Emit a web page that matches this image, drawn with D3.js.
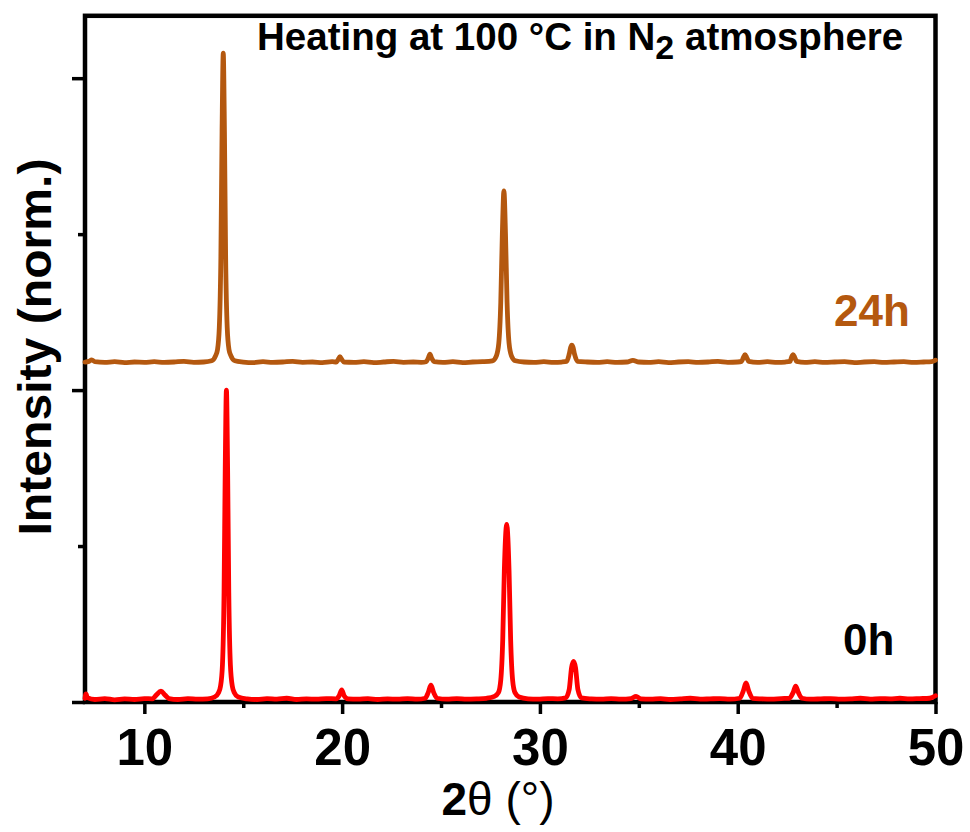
<!DOCTYPE html>
<html>
<head>
<meta charset="utf-8">
<script src="https://cdn.jsdelivr.net/npm/d3@7/dist/d3.min.js"></script>
<style>
  html, body { margin: 0; padding: 0; background: #fff; }
  svg { display: block; }
  text { font-family: "Liberation Sans", Arial, Helvetica, sans-serif; }
</style>
</head>
<body>
<svg id="chart" width="970" height="832"></svg>
<script>
// ---------------- DATA ----------------
const seriesNames = ["0h", "24h"];
const seriesColors = ["#FF0000", "#B4580F"];
const stackOffset24h = 1.08;   // vertical offset of the 24h pattern (norm. units)

const xMajorTicks = [10, 20, 30, 40, 50];
const xMinorTicks = [15, 25, 35, 45];
const yMajorTicks = [0, 1, 2];
const yMinorTicks = [0.5, 1.5];

const titleMain = "Heating at 100 °C in N";
const titleSub = "2";
const titleEnd = " atmosphere";
const yLabel = "Intensity (norm.)";

// 0h pattern: [2θ (°), intensity (norm.)]
const pattern0h = [
  [7.0, 0.012], [7.05, 0.026], [7.12, 0.014], [7.5, 0.008], [8.0, 0.011], [8.5, 0.007],
  [9.0, 0.010], [9.5, 0.008], [10.0, 0.011], [10.4, 0.010], [10.6, 0.022], [10.84, 0.035],
  [11.05, 0.022], [11.25, 0.011], [11.7, 0.008], [12.2, 0.011], [12.7, 0.009], [13.2, 0.010],
  [13.55, 0.016], [13.75, 0.03], [13.85, 0.05], [13.95, 0.12], [14.03, 0.35], [14.09, 0.75],
  [14.15, 1.0], [14.21, 0.75], [14.27, 0.35], [14.35, 0.12], [14.45, 0.05], [14.55, 0.03],
  [14.75, 0.016], [15.2, 0.010], [15.7, 0.008], [16.2, 0.011], [16.7, 0.009], [17.2, 0.012],
  [17.7, 0.008], [18.2, 0.010], [18.7, 0.009], [19.2, 0.011], [19.7, 0.010], [19.85, 0.02],
  [19.98, 0.039], [20.1, 0.02], [20.3, 0.010], [20.8, 0.009], [21.3, 0.011], [21.8, 0.008],
  [22.3, 0.010], [22.8, 0.009], [23.3, 0.011], [23.8, 0.009], [24.2, 0.012], [24.35, 0.03],
  [24.49, 0.054], [24.63, 0.03], [24.8, 0.012], [25.3, 0.009], [25.8, 0.011], [26.3, 0.009],
  [26.8, 0.010], [27.3, 0.012], [27.7, 0.018], [27.9, 0.03], [28.02, 0.07], [28.12, 0.2],
  [28.2, 0.42], [28.32, 0.569], [28.44, 0.42], [28.52, 0.2], [28.62, 0.07], [28.74, 0.03],
  [28.95, 0.016], [29.4, 0.010], [29.9, 0.009], [30.4, 0.011], [30.9, 0.010], [31.3, 0.013],
  [31.48, 0.04], [31.6, 0.11], [31.7, 0.130], [31.8, 0.11], [31.92, 0.04], [32.1, 0.013],
  [32.6, 0.010], [33.1, 0.009], [33.6, 0.011], [34.1, 0.009], [34.6, 0.011], [34.86, 0.018],
  [35.1, 0.010], [35.6, 0.009], [36.1, 0.011], [36.6, 0.008], [37.1, 0.010], [37.6, 0.012],
  [38.1, 0.009], [38.6, 0.010], [39.1, 0.011], [39.6, 0.009], [40.1, 0.012], [40.28, 0.035],
  [40.42, 0.061], [40.56, 0.035], [40.75, 0.012], [41.2, 0.010], [41.7, 0.009], [42.2, 0.011],
  [42.6, 0.012], [42.8, 0.03], [42.93, 0.051], [43.07, 0.03], [43.25, 0.012], [43.7, 0.009],
  [44.2, 0.010], [44.7, 0.011], [45.2, 0.009], [45.7, 0.010], [46.2, 0.012], [46.7, 0.009],
  [47.2, 0.011], [47.7, 0.010], [48.2, 0.012], [48.7, 0.010], [49.2, 0.011], [49.7, 0.012],
  [50.0, 0.02]
];

// 24h pattern: [2θ (°), intensity (norm.)] (drawn shifted up by stackOffset24h)
const pattern24h = [
  [7.0, 0.010], [7.2, 0.012], [7.34, 0.017], [7.5, 0.011], [8.0, 0.009], [8.5, 0.011],
  [9.0, 0.008], [9.5, 0.010], [10.0, 0.009], [10.5, 0.011], [11.0, 0.009], [11.5, 0.010],
  [12.0, 0.012], [12.5, 0.009], [13.0, 0.010], [13.4, 0.014], [13.6, 0.03], [13.7, 0.05],
  [13.79, 0.12], [13.87, 0.35], [13.93, 0.75], [13.99, 1.0], [14.05, 0.75], [14.11, 0.35],
  [14.19, 0.12], [14.28, 0.05], [14.38, 0.03], [14.58, 0.014], [15.0, 0.010], [15.5, 0.008],
  [16.0, 0.011], [16.5, 0.009], [17.0, 0.010], [17.5, 0.012], [18.0, 0.009], [18.5, 0.010],
  [19.0, 0.008], [19.5, 0.011], [19.7, 0.010], [19.8, 0.018], [19.89, 0.027], [19.98, 0.018],
  [20.1, 0.010], [20.6, 0.009], [21.1, 0.011], [21.6, 0.008], [22.1, 0.010], [22.6, 0.012],
  [23.1, 0.009], [23.6, 0.010], [24.0, 0.009], [24.25, 0.011], [24.35, 0.022], [24.44, 0.035],
  [24.53, 0.022], [24.65, 0.011], [25.1, 0.009], [25.6, 0.011], [26.1, 0.008], [26.6, 0.010],
  [27.1, 0.011], [27.6, 0.014], [27.8, 0.03], [27.92, 0.07], [28.02, 0.2], [28.1, 0.42],
  [28.18, 0.559], [28.26, 0.42], [28.34, 0.2], [28.44, 0.07], [28.56, 0.03], [28.76, 0.014],
  [29.2, 0.010], [29.7, 0.009], [30.2, 0.011], [30.7, 0.009], [31.1, 0.010], [31.35, 0.012],
  [31.48, 0.035], [31.56, 0.058], [31.61, 0.064], [31.67, 0.058], [31.75, 0.035], [31.9, 0.012],
  [32.4, 0.010], [32.9, 0.009], [33.4, 0.011], [33.9, 0.009], [34.4, 0.010], [34.7, 0.015],
  [35.0, 0.010], [35.5, 0.009], [36.0, 0.011], [36.5, 0.008], [37.0, 0.010], [37.5, 0.011],
  [38.0, 0.009], [38.5, 0.010], [39.0, 0.012], [39.5, 0.009], [40.0, 0.010], [40.2, 0.012],
  [40.29, 0.025], [40.37, 0.034], [40.45, 0.025], [40.56, 0.012], [41.0, 0.009], [41.5, 0.011],
  [42.0, 0.009], [42.4, 0.010], [42.65, 0.012], [42.72, 0.025], [42.8, 0.034], [42.88, 0.025],
  [42.98, 0.012], [43.4, 0.009], [43.9, 0.011], [44.4, 0.009], [44.9, 0.010], [45.4, 0.011],
  [45.9, 0.008], [46.4, 0.010], [46.9, 0.011], [47.4, 0.009], [47.9, 0.010], [48.4, 0.011],
  [48.9, 0.009], [49.4, 0.010], [49.8, 0.011], [50.0, 0.016]
];

// ---------------- CHART ----------------
const svg = d3.select("#chart");
const mLeft = 85, mRight = 935.5, mTop = 15.8, mBottom = 702;

const x = d3.scaleLinear().domain([7, 50]).range([mLeft, mRight]);
const y = d3.scaleLinear().domain([0, 2.2]).range([mBottom, mTop]);

// frame
svg.append("rect")
  .attr("x", mLeft).attr("y", mTop)
  .attr("width", mRight - mLeft).attr("height", mBottom - mTop)
  .attr("fill", "none").attr("stroke", "#000").attr("stroke-width", 4.5);

// x axis
const gxMaj = svg.append("g").attr("transform", `translate(0,${mBottom})`)
  .call(d3.axisBottom(x).tickValues(xMajorTicks).tickSize(12).tickFormat(d3.format("d")));
const gxMin = svg.append("g").attr("transform", `translate(0,${mBottom})`)
  .call(d3.axisBottom(x).tickValues(xMinorTicks).tickSize(6).tickFormat(""));
// y axis
const gyMaj = svg.append("g").attr("transform", `translate(${mLeft},0)`)
  .call(d3.axisLeft(y).tickValues(yMajorTicks).tickSize(13).tickFormat(""));
const gyMin = svg.append("g").attr("transform", `translate(${mLeft},0)`)
  .call(d3.axisLeft(y).tickValues(yMinorTicks).tickSize(7).tickFormat(""));

[gxMaj, gxMin, gyMaj, gyMin].forEach(g => {
  g.select(".domain").remove();
  g.selectAll(".tick line").attr("stroke", "#000").attr("stroke-width", 3.5);
});
gxMaj.selectAll(".tick text")
  .attr("y", 63).attr("dy", 0)
  .attr("font-size", 51).attr("font-weight", "bold")
  .attr("fill", "#000")
  .style("font-family", "'Liberation Sans', Arial, sans-serif");

// traces
const line = d3.line()
  .x(d => x(d[0]))
  .y(d => y(d[1]))
  .curve(d3.curveMonotoneX);

const traces = [
  { name: seriesNames[0], color: seriesColors[0], data: pattern0h, offset: 0 },
  { name: seriesNames[1], color: seriesColors[1], data: pattern24h, offset: stackOffset24h }
];

svg.append("g").selectAll("path")
  .data(traces)
  .join("path")
  .attr("d", t => line(t.data.map(p => [p[0], p[1] + t.offset])))
  .attr("fill", "none")
  .attr("stroke", t => t.color)
  .attr("stroke-width", 4.8)
  .attr("stroke-linejoin", "round")
  .attr("stroke-linecap", "round");

// series labels
svg.append("text").attr("x", 834).attr("y", 326)
  .attr("font-size", 44).attr("font-weight", "bold").attr("fill", seriesColors[1])
  .text(seriesNames[1]);
svg.append("text").attr("x", 843).attr("y", 655)
  .attr("font-size", 44).attr("font-weight", "bold").attr("fill", "#000")
  .text(seriesNames[0]);

// title
const title = svg.append("text").attr("x", 257).attr("y", 50)
  .attr("font-size", 38.5).attr("font-weight", "bold").attr("fill", "#000");
title.append("tspan").text(titleMain);
title.append("tspan").attr("dy", 9).attr("font-size", 34).text(titleSub);
title.append("tspan").attr("dy", -9).text(titleEnd);

// y label
svg.append("text")
  .attr("transform", `translate(51,347) rotate(-90)`)
  .attr("text-anchor", "middle")
  .attr("font-size", 46).attr("font-weight", "bold")
  .attr("textLength", 377).attr("lengthAdjust", "spacingAndGlyphs")
  .attr("fill", "#000")
  .text(yLabel);

// x label
const xl = svg.append("text").attr("x", 498).attr("y", 815)
  .attr("text-anchor", "middle").attr("font-size", 46).attr("fill", "#000");
xl.append("tspan").attr("font-weight", "bold").text("2");
xl.append("tspan").text("θ (°)");
</script>
</body>
</html>
